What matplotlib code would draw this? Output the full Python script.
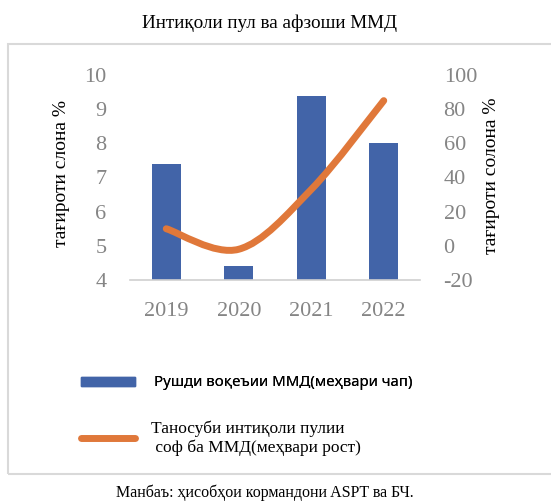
import matplotlib.pyplot as plt
from matplotlib.path import Path
from matplotlib.patches import PathPatch, Rectangle
from matplotlib.lines import Line2D
import numpy as np

plt.rcParams['axes.unicode_minus'] = False

years = ['2019', '2020', '2021', '2022']
real_growth = [7.4, 4.4, 9.4, 8.0]        # left axis, bars
remit_ratio = [10, -2, 33, 85]            # right axis, line
left_ticks = [4, 5, 6, 7, 8, 9, 10]
right_ticks = [-20, 0, 20, 40, 60, 80, 100]

title = 'Интиқоли пул ва афзоши ММД'
left_label = 'тағироти слона %'
right_label = 'тағироти солона %'
bar_name = 'Рушди воқеъии ММД(меҳвари чап)'
line_name = 'Таносуби интиқоли пулии\n соф ба ММД(меҳвари рост)'
source = 'Манбаъ: ҳисобҳои кормандони ASPT ва БЧ.'

W, H = 551, 504
serif = 'Liberation Serif'
blue = '#4264A8'
orange = '#E0783A'
gray = '#858585'

fig = plt.figure(figsize=(W / 100, H / 100), dpi=100)

# outer frame
fig.patches.append(Rectangle((8 / W, 1 - 474 / H), 560 / W, 430 / H,
                             transform=fig.transFigure, fill=False,
                             edgecolor='#d9d9d9', lw=1.5))

ax = fig.add_axes([130 / W, 1 - 280 / H, 290 / W, 205 / H])
x = np.arange(len(years))
ax.bar(x, real_growth, width=0.4, color=blue)
ax.set_xlim(-0.5, 3.5)
ax.set_ylim(4, 10)
ax.set_yticks(left_ticks)
ax.set_xticks(x)
ax.set_xticklabels(years)
for s in ['top', 'left', 'right']:
    ax.spines[s].set_visible(False)
ax.spines['bottom'].set_color('#d0d0d0')
ax.spines['bottom'].set_linewidth(1.2)
ax.tick_params(length=0, labelsize=16, labelcolor=gray)
ax.tick_params(axis='x', pad=16)
ax.tick_params(axis='y', pad=17)
for t in ax.get_xticklabels() + ax.get_yticklabels():
    t.set_fontfamily(serif)

ax2 = ax.twinx()
ax2.set_ylim(-20, 100)
ax2.set_yticks(right_ticks)
for s in ax2.spines.values():
    s.set_visible(False)
ax2.tick_params(length=0, labelsize=16, labelcolor=gray, pad=17)
for t in ax2.get_yticklabels():
    t.set_fontfamily(serif)

# smoothed line (Bezier through the data points)
pts = np.column_stack([x, remit_ratio]).astype(float)
ext = np.vstack([pts[0], pts, pts[-1]])
verts = [pts[0]]
codes = [Path.MOVETO]
for i in range(len(pts) - 1):
    p0, p1, p2, p3 = ext[i], ext[i + 1], ext[i + 2], ext[i + 3]
    verts += [p1 + (p2 - p0) / 6, p2 - (p3 - p1) / 6, p2]
    codes += [Path.CURVE4] * 3
ax2.add_patch(PathPatch(Path(verts, codes), fill=False, edgecolor=orange,
                        lw=5, capstyle='round'))

ax.set_ylabel(left_label, fontfamily=serif, fontsize=14)
ax.yaxis.set_label_coords(-60 / 290, 0.52)
ax2.set_ylabel(right_label, fontfamily=serif, fontsize=14)
ax2.yaxis.set_label_coords(1 + 63 / 290, 0.51)

fig.text(270 / W, 1 - 23 / H, title, ha='center', va='center',
         fontfamily=serif, fontsize=13.8)

# legend entries
leg1 = fig.legend([Rectangle((0, 0), 1, 1, color=blue)], [bar_name],
                  loc='center left', bbox_to_anchor=(81 / W, 1 - 383 / H),
                  frameon=False, borderpad=0, borderaxespad=0,
                  handlelength=3.6, handleheight=0.55, handletextpad=1.25,
                  prop={'family': 'Noto Sans', 'size': 10.8})
leg2 = fig.legend([Line2D([0], [0], color=orange, lw=5, solid_capstyle='round')],
                  [line_name], loc='center left',
                  bbox_to_anchor=(81 / W, 1 - 438 / H), frameon=False,
                  borderpad=0, borderaxespad=0,
                  handlelength=3.1, handletextpad=0.95,
                  prop={'family': serif, 'size': 12.5})
fig.add_artist(leg1)

fig.text(265 / W, 1 - 493 / H, source, ha='center', va='center',
         fontfamily=serif, fontsize=11.5)

fig.savefig('out.png', dpi=100)
